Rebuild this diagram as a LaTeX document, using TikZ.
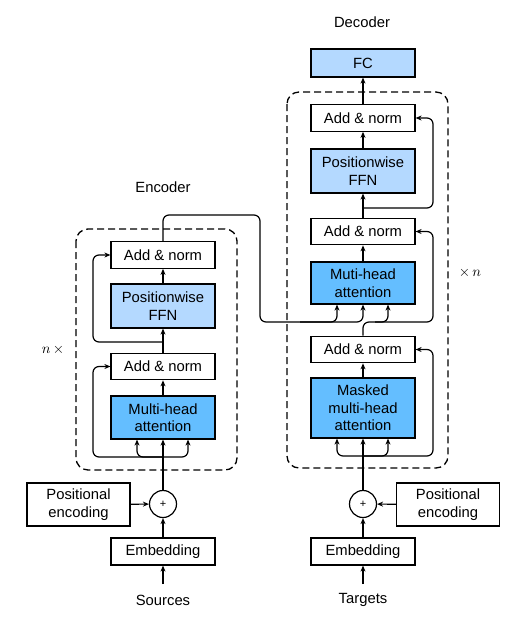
\documentclass[tikz,border=0pt]{standalone}
\usepackage{fontspec}
\setmainfont{Liberation Sans}
\usetikzlibrary{arrows.meta}
\definecolor{attblue}{RGB}{100,190,255}
\definecolor{ffnblue}{RGB}{180,217,255}
\newcommand{\lblfont}{\fontsize{14.8}{17.5}\selectfont}
\begin{document}
\begin{tikzpicture}[x=1pt,y=-1pt,
  box/.style={draw, line width=1.2pt, minimum width=104pt, inner sep=0pt, align=center, font=\lblfont},
  addbox/.style={box, minimum height=26.5pt, fill=white},
  ffnbox/.style={box, minimum height=44pt, fill=ffnblue},
  attbox/.style={box, minimum height=43pt, fill=attblue},
  posbox/.style={box, minimum width=103pt, minimum height=43pt},
  plusnode/.style={draw, circle, line width=1.2pt, minimum size=27pt, inner sep=0pt, font=\fontsize{11}{12}\selectfont},
  lbl/.style={font=\lblfont, inner sep=1pt},
  arr/.style={-{Stealth[length=6pt,width=5pt]}, line width=1.2pt},
  rc/.style={rounded corners=6pt},
  dashbox/.style={draw, line width=1.3pt, dash pattern=on 7pt off 4pt, rounded corners=12pt}
]
\useasboundingbox (0,0) rectangle (522,633);
% dashed frames
\draw[dashbox] (76,229) rectangle (237,470);
\draw[dashbox] (287,92) rectangle (448,468);
% titles
\node[lbl] (enc) at (163,187) {Encoder};
\node[lbl] (dec) at (362,22) {Decoder};
\node (nl) at (53,350) {\scalebox{1.45}{$n\,\times$}};
\node (nr) at (470,273) {\scalebox{1.45}{$\times\,n$}};
% encoder boxes
\node[addbox] (addL1) at (163,255) {Add \& norm};
\node[ffnbox] (ffnL) at (163,306) {Positionwise\\FFN};
\node[addbox] (addL2) at (163,366.5) {Add \& norm};
\node[attbox] (attL) at (163,417.5) {Multi-head\\attention};
% decoder boxes
\node[box, minimum height=28pt, fill=ffnblue] (fc) at (363,63) {FC};
\node[addbox] (addD1) at (363,118) {Add \& norm};
\node[ffnbox] (ffnD) at (363,171) {Positionwise\\FFN};
\node[addbox] (addD2) at (363,231.5) {Add \& norm};
\node[attbox, minimum height=42pt] (attD) at (363,283) {Muti-head\\attention};
\node[addbox] (addD3) at (363,349.5) {Add \& norm};
\node[box, minimum height=60pt, fill=attblue] (maskD) at (363,408) {Masked\\multi-head\\attention};
% bottom
\node[posbox] (posL) at (78.5,504.5) {Positional\\encoding};
\node[plusnode] (plusL) at (163,504) {+};
\node[box, minimum height=27pt] (embL) at (163,551.5) {Embedding};
\node[lbl] (src) at (163,600) {Sources};
\node[posbox] (posR) at (448,504.5) {Positional\\encoding};
\node[plusnode] (plusR) at (363,504) {+};
\node[box, minimum height=27pt] (embR) at (363,551.5) {Embedding};
\node[lbl] (tgt) at (363,600) {Targets};
\coordinate (srcTop) at (163,584);
\coordinate (tgtTop) at (363,584);
% encoder connectors
\draw[arr] (srcTop) -- (embL);
\draw[arr] (embL) -- (plusL);
\draw[arr] (posL) -- (plusL);
\draw[arr] (plusL) -- (attL);
\coordinate (bL) at (163,457);
\draw[arr, rc] (bL) -| ([xshift=-26pt]attL.south);
\draw[arr, rc] (bL) -| ([xshift=25pt]attL.south);
\draw[arr, rc] (bL) -- (93,457) |- (addL2.west);
\draw[arr] (attL) -- (addL2);
\draw[arr] (addL2) -- (ffnL);
\draw[arr] (ffnL) -- (addL1);
\coordinate (rL) at (163,342);
\draw[arr, rc] (rL) -- (93,342) |- (addL1.west);
% encoder output to decoder
\draw[arr, rc] (addL1.north) -- (163,215) -- (260,215) -- (260,322) -- (363,322) -- (attD.south);
\coordinate (eK) at (300,322);
\draw[arr, rc] (eK) -| ([xshift=-26pt]attD.south);
% decoder connectors
\draw[arr] (tgtTop) -- (embR);
\draw[arr] (embR) -- (plusR);
\draw[arr] (posR) -- (plusR);
\draw[arr] (plusR) -- (maskD);
\coordinate (bR) at (363,456);
\draw[arr, rc] (bR) -| ([xshift=-26pt]maskD.south);
\draw[arr, rc] (bR) -| ([xshift=25pt]maskD.south);
\draw[arr, rc] (bR) -- (433,456) |- (addD3.east);
\draw[arr] (maskD) -- (addD3);
\draw[arr, rc] (addD3.north) -- (363,322) -- (433,322) |- (addD2.east);
\coordinate (qB) at (375,322);
\draw[arr, rc] (qB) -| ([xshift=25pt]attD.south);
\draw[arr] (attD) -- (addD2);
\draw[arr] (addD2) -- (ffnD);
\draw[arr] (ffnD) -- (addD1);
\coordinate (rR) at (363,208);
\draw[arr, rc] (rR) -- (433,208) |- (addD1.east);
\draw[arr] (addD1) -- (fc);
\end{tikzpicture}
\end{document}
